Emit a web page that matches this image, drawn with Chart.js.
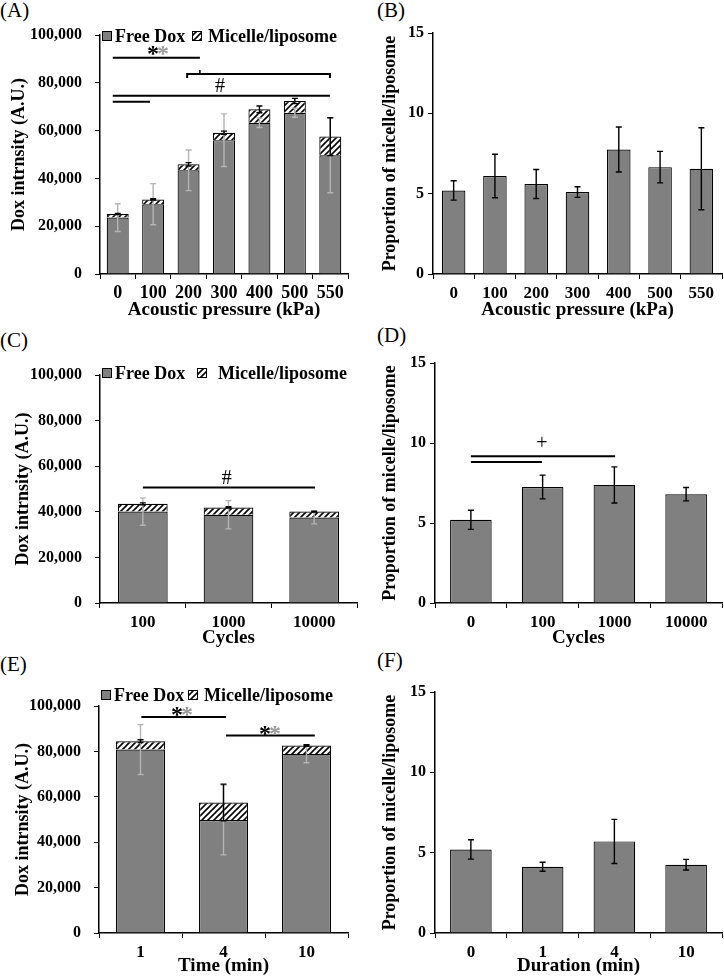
<!DOCTYPE html>
<html>
<head>
<meta charset="utf-8">
<script src="https://cdn.jsdelivr.net/npm/chart.js@4.4.1/dist/chart.umd.min.js"></script>
<style>
  html, body { margin: 0; padding: 0; background: #fff; }
  body { width: 724px; height: 979px; position: relative; overflow: hidden; font-family: "Liberation Serif", "Times New Roman", serif; }
  canvas { position: absolute; }
  .lbl { position: absolute; font-size: 21px; line-height: 1; color: #000; }
</style>
</head>
<body>
<div class="lbl" style="left:0;top:0">(A)</div>
<div class="lbl" style="left:377px;top:0">(B)</div>
<div class="lbl" style="left:0;top:330px">(C)</div>
<div class="lbl" style="left:377px;top:325px">(D)</div>
<div class="lbl" style="left:0;top:654px">(E)</div>
<div class="lbl" style="left:377px;top:650px">(F)</div>

<canvas id="chartA" width="362" height="321" style="left:0;top:0"></canvas>
<canvas id="chartB" width="362" height="321" style="left:362px;top:0"></canvas>
<canvas id="chartC" width="362" height="329" style="left:0;top:320px"></canvas>
<canvas id="chartD" width="362" height="329" style="left:362px;top:320px"></canvas>
<canvas id="chartE" width="362" height="327" style="left:0;top:650px"></canvas>
<canvas id="chartF" width="362" height="327" style="left:362px;top:650px"></canvas>

<script>
// ---- data ----
const pressureLabels = ['0', '100', '200', '300', '400', '500', '550'];
const pressureFreeDox = [23600, 29200, 43400, 56000, 63300, 67500, 49700];
const pressureMicelle = [1500, 2000, 2500, 3100, 5600, 4900, 7800];
const pressureFreeErr = [5800, 8600, 8500, 11000, 2000, 1900, 15700];
const pressureTotalErr = [200, 300, 700, 700, 1400, 1100, 7900];
const pressureRatio = [5.2, 6.1, 5.6, 5.1, 7.75, 6.65, 6.55];
const pressureRatioErr = [0.6, 1.35, 0.9, 0.33, 1.4, 0.98, 2.55];

const cycleLabels = ['100', '1000', '10000'];
const cycleFreeDox = [40100, 38700, 37500];
const cycleMicelle = [3400, 3200, 2600];
const cycleFreeErr = [6000, 6200, 2800];
const cycleTotalErr = [400, 300, 200];
const cycleRatioLabels = ['0', '100', '1000', '10000'];
const cycleRatio = [5.2, 7.25, 7.38, 6.8];
const cycleRatioErr = [0.6, 0.74, 1.13, 0.42];

const timeLabels = ['1', '4', '10'];
const timeFreeDox = [80800, 49800, 78900];
const timeMicelle = [3700, 7700, 3700];
const timeFreeErr = [11000, 15400, 3900];
const timeTotalErr = [600, 8100, 300];
const durationLabels = ['0', '1', '4', '10'];
const durationRatio = [5.2, 4.12, 5.7, 4.25];
const durationRatioErr = [0.6, 0.28, 1.37, 0.33];

const intensityTicks = [0, 20000, 40000, 60000, 80000, 100000];
const ratioTicks = [0, 5, 10, 15];

// significance lines: [from category, to category, value, bracket ends?]
const pressureSigLines = [[-0.14, 2.32, 90500], [1.96, 5.99, 83700, true], [-0.14, 5.99, 74600], [-0.14, 0.91, 72100]];
const pressureSigText = [['**', 1.14, 93700], ['#', 2.89, 78200]];
const cycleSigLines = [[0, 2.01, 50700]];
const cycleSigText = [['#', 0.98, 54300]];
const cycleRatioSigLines = [[0, 2.01, 9.17], [0, 0.99, 8.81]];
const cycleRatioSigText = [['+', 0.99, 9.96]];
const timeSigLines = [[0.01, 1.03, 95100], [1.03, 2.1, 87000]];
const timeSigText = [['**', 0.5, 97900], ['**', 1.56, 89700]];

// ---- styles ----
const SERIF = '"Liberation Serif", "Times New Roman", serif';
const GRAY = '#808080';
const ERR_GRAY = '#b4b4b4';

const hatch = (() => {
  const c = document.createElement('canvas');
  c.width = 6; c.height = 6;
  const g = c.getContext('2d');
  g.fillStyle = '#fff';
  g.fillRect(0, 0, 6, 6);
  g.strokeStyle = '#000';
  g.lineWidth = 1.6;
  g.beginPath();
  g.moveTo(0, 6); g.lineTo(6, 0);
  g.moveTo(-3, 3); g.lineTo(3, -3);
  g.moveTo(3, 9); g.lineTo(9, 3);
  g.stroke();
  return g.createPattern(c, 'repeat');
})();

const errorBars = {
  id: 'errorBars',
  afterDatasetsDraw(chart, args, opts) {
    const { ctx } = chart;
    const x = chart.scales.x, y = chart.scales.y;
    (opts.sets || []).forEach(s => {
      ctx.save();
      ctx.strokeStyle = s.color;
      ctx.lineWidth = 1.4;
      s.center.forEach((v, i) => {
        const px = x.getPixelForValue(i);
        const top = y.getPixelForValue(v + s.err[i]);
        const bot = y.getPixelForValue(v - s.err[i]);
        ctx.beginPath();
        ctx.moveTo(px, top); ctx.lineTo(px, bot);
        ctx.moveTo(px - 3, top); ctx.lineTo(px + 3, top);
        ctx.moveTo(px - 3, bot); ctx.lineTo(px + 3, bot);
        ctx.stroke();
      });
      ctx.restore();
    });
  }
};

const sigMarks = {
  id: 'sigMarks',
  afterDatasetsDraw(chart, args, opts) {
    const { ctx } = chart;
    const x = chart.scales.x, y = chart.scales.y;
    ctx.save();
    ctx.strokeStyle = '#000';
    ctx.lineWidth = 2;
    (opts.lines || []).forEach(([a, b, v, ends]) => {
      const yy = y.getPixelForValue(v);
      const xa = x.getPixelForValue(a), xb = x.getPixelForValue(b);
      ctx.beginPath();
      ctx.moveTo(xa, yy); ctx.lineTo(xb, yy);
      if (ends) {
        ctx.moveTo(xa, yy - 1); ctx.lineTo(xa, yy + 4);
        ctx.moveTo(xb, yy - 1); ctx.lineTo(xb, yy + 4);
      }
      ctx.stroke();
    });
    if (opts.stub) {
      const [a, v0, v1] = opts.stub;
      const xa = x.getPixelForValue(a);
      ctx.lineWidth = 1.5;
      ctx.beginPath();
      ctx.moveTo(xa, y.getPixelForValue(v0)); ctx.lineTo(xa, y.getPixelForValue(v1));
      ctx.stroke();
    }
    ctx.textAlign = 'center';
    ctx.textBaseline = 'middle';
    (opts.text || []).forEach(([t, a, v]) => {
      const xa = x.getPixelForValue(a), yy = y.getPixelForValue(v);
      if (t === '**') {
        ctx.font = 'bold 24px ' + SERIF;
        ctx.fillStyle = '#000';
        ctx.fillText('*', xa - 5, yy + 5);
        ctx.fillStyle = '#9a9a9a';
        ctx.fillText('*', xa + 5, yy + 5);
      } else {
        ctx.font = '20px ' + SERIF;
        ctx.fillStyle = '#000';
        ctx.fillText(t, xa, yy);
      }
    });
    ctx.restore();
  }
};

const legendBoxes = {
  id: 'legendBoxes',
  afterDraw(chart, args, o) {
    if (!o.show) return;
    const { ctx, chartArea } = chart;
    const cy = chartArea.top + o.dy;
    const left = chartArea.left;
    ctx.save();
    ctx.font = 'bold 18px ' + SERIF;
    ctx.textBaseline = 'middle';
    ctx.lineWidth = 1;
    ctx.strokeStyle = '#000';
    [[GRAY, 'Free Dox', 2, 15], [hatch, 'Micelle/liposome', o.x2, o.x2 + o.gap]].forEach(([fill, label, bx, tx]) => {
      ctx.fillStyle = fill;
      ctx.fillRect(left + bx, cy - 5, 10, 10);
      ctx.strokeRect(left + bx + 0.5, cy - 4.5, 9, 9);
      ctx.fillStyle = '#000';
      ctx.fillText(label, left + tx, cy + 1);
    });
    ctx.restore();
  }
};

function makePanel(id, o) {
  const canvas = document.getElementById(id);
  const w = canvas.width, h = canvas.height;
  const yTickFont = { family: SERIF, size: 16, weight: 'bold' };
  const xTickFont = { family: SERIF, size: o.xTickSize || 17, weight: 'bold' };
  const titleFont = { family: SERIF, size: 18, weight: 'bold' };
  const xTitleFont = { family: SERIF, size: 19, weight: 'bold' };
  new Chart(canvas, {
    type: 'bar',
    data: { labels: o.labels, datasets: o.datasets },
    options: {
      responsive: false,
      animation: false,
      events: [],
      layout: { padding: { left: 0, top: o.area.t, right: w - o.area.r, bottom: 0 } },
      datasets: { bar: { categoryPercentage: 1, barPercentage: o.barPct, borderColor: '#000', borderWidth: 1.2 } },
      scales: {
        x: {
          stacked: true,
          afterFit: s => { s.height = h - o.area.b; },
          border: { color: '#000', width: 1.5 },
          grid: { display: true, drawOnChartArea: false, offset: true, color: '#000', tickLength: 5, lineWidth: 1 },
          ticks: { color: '#000', font: xTickFont, padding: o.xPad, maxRotation: 0, autoSkip: false },
          title: { display: true, text: o.xTitle, color: '#000', font: xTitleFont, padding: { top: 0, bottom: 0 } }
        },
        y: {
          stacked: true,
          min: 0,
          max: o.ticks[o.ticks.length - 1],
          afterFit: s => { s.width = o.area.l; },
          afterBuildTicks: s => { s.ticks = o.ticks.map(v => ({ value: v })); },
          border: { color: '#000', width: 1.5 },
          grid: { display: true, drawOnChartArea: false, color: '#000', tickLength: 5, lineWidth: 1 },
          ticks: { color: '#000', font: yTickFont, padding: o.yPad, callback: v => v.toLocaleString('en-US') },
          title: { display: true, text: o.yTitle, color: '#000', font: titleFont, padding: { top: o.yTitlePad, bottom: 0 } }
        }
      },
      plugins: {
        legend: { display: false },
        tooltip: { enabled: false },
        errorBars: { sets: o.errSets },
        sigMarks: { lines: o.sigLines, text: o.sigText, stub: o.stub },
        legendBoxes: o.legend || { show: false }
      }
    },
    plugins: [errorBars, sigMarks, legendBoxes]
  });
}

function sum(a, b) { return a.map((v, i) => v + b[i]); }

function intensityPanel(id, labels, free, mic, freeErr, totErr, extra) {
  makePanel(id, Object.assign({
    labels,
    datasets: [
      { label: 'Free Dox', data: free, backgroundColor: GRAY },
      { label: 'Micelle/liposome', data: mic, backgroundColor: hatch }
    ],
    ticks: intensityTicks,
    yTitle: 'Dox intrnsity (A.U.)',
    yPad: 13,
    xPad: 4,
    errSets: [
      { color: ERR_GRAY, center: free, err: freeErr },
      { color: '#000', center: sum(free, mic), err: totErr }
    ]
  }, extra));
}

function ratioPanel(id, labels, vals, errs, extra) {
  makePanel(id, Object.assign({
    labels,
    datasets: [{ label: 'Proportion', data: vals, backgroundColor: GRAY }],
    ticks: ratioTicks,
    yTitle: 'Proportion of micelle/liposome',
    yTitlePad: 18,
    yPad: 4,
    xPad: 4,
    barPct: 0.58,
    errSets: [{ color: '#000', center: vals, err: errs }]
  }, extra));
}

intensityPanel('chartA', pressureLabels, pressureFreeDox, pressureMicelle, pressureFreeErr, pressureTotalErr, {
  area: { l: 100, t: 35, r: 348, b: 274 },
  barPct: 0.62,
  xTickSize: 18,
  xTitle: 'Acoustic pressure (kPa)',
  yTitlePad: 9,
  sigLines: pressureSigLines,
  sigText: pressureSigText,
  stub: [2.32, 83700, 85400],
  legend: { show: true, dy: 1, x2: 92, gap: 16 }
});

ratioPanel('chartB', pressureLabels, pressureRatio, pressureRatioErr, {
  area: { l: 71, t: 33, r: 360, b: 274 },
  barPct: 0.57,
  xTitle: 'Acoustic pressure (kPa)'
});

intensityPanel('chartC', cycleLabels, cycleFreeDox, cycleMicelle, cycleFreeErr, cycleTotalErr, {
  area: { l: 100, t: 55, r: 357, b: 283 },
  barPct: 0.58,
  xTitle: 'Cycles',
  yTitlePad: 13,
  sigLines: cycleSigLines,
  sigText: cycleSigText,
  legend: { show: true, dy: -2, x2: 97, gap: 21 }
});

ratioPanel('chartD', cycleRatioLabels, cycleRatio, cycleRatioErr, {
  area: { l: 73, t: 43, r: 360, b: 283 },
  xTitle: 'Cycles',
  sigLines: cycleRatioSigLines,
  sigText: cycleRatioSigText
});

intensityPanel('chartE', timeLabels, timeFreeDox, timeMicelle, timeFreeErr, timeTotalErr, {
  area: { l: 99, t: 56, r: 348, b: 283 },
  barPct: 0.59,
  xTitle: 'Time (min)',
  yTitlePad: 13,
  sigLines: timeSigLines,
  sigText: timeSigText,
  legend: { show: true, dy: -11, x2: 89, gap: 16 }
});

ratioPanel('chartF', durationLabels, durationRatio, durationRatioErr, {
  area: { l: 73, t: 42, r: 360, b: 283 },
  xTitle: 'Duration (min)'
});
</script>
</body>
</html>
